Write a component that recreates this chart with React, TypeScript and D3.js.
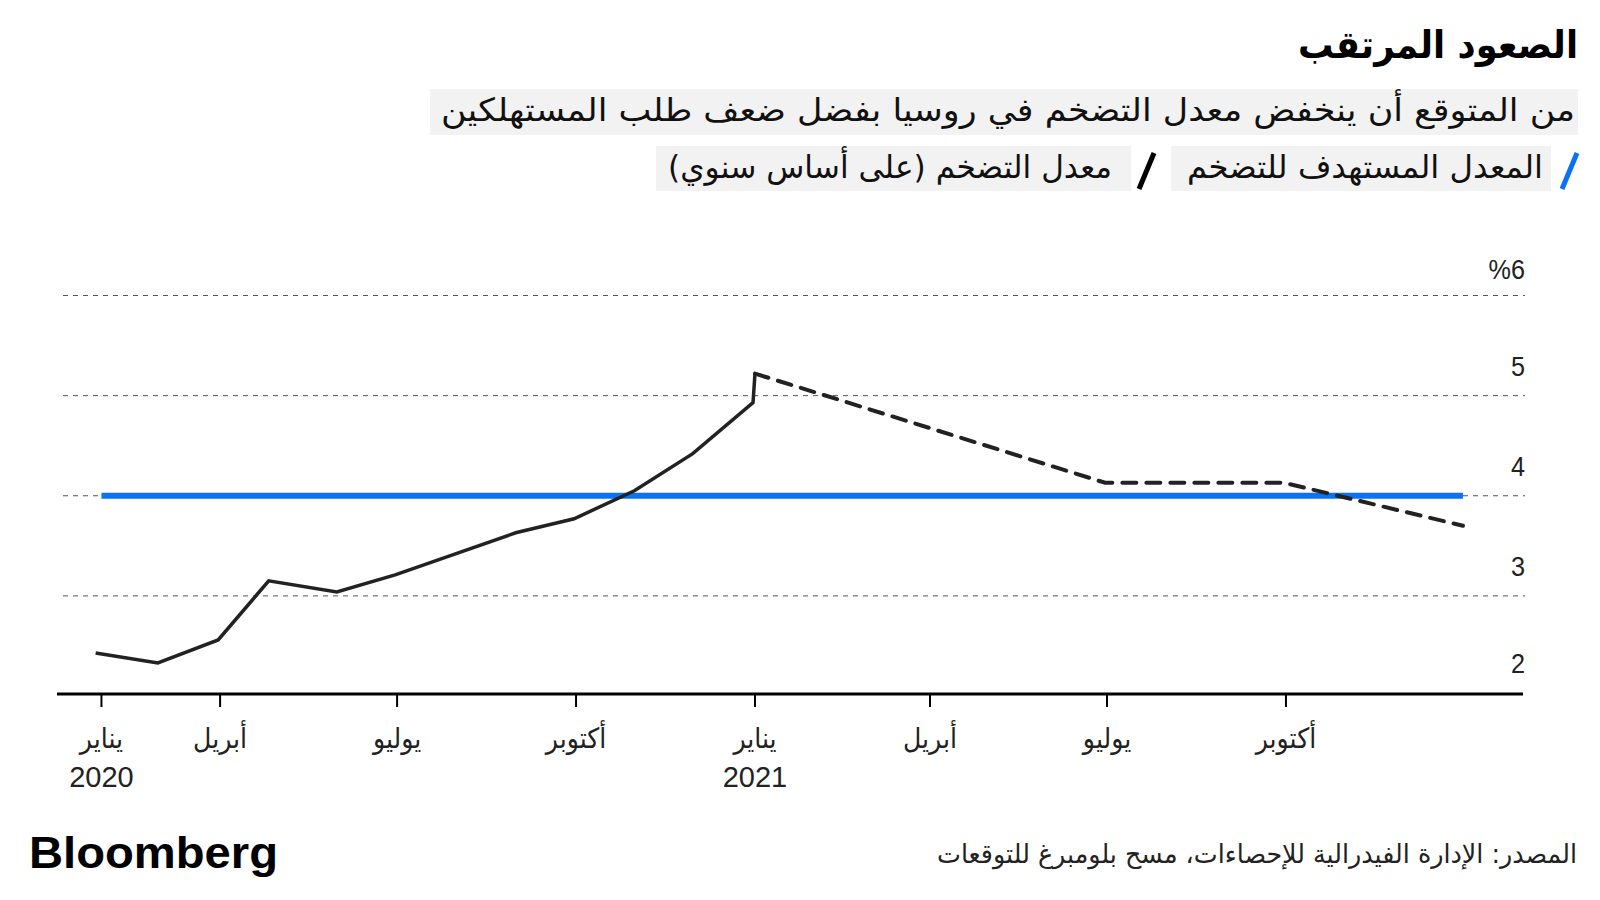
import React from "react";
import * as d3 from "d3";

// ---- data ----
const actualDates = ["2020-01-28", "2020-02-29", "2020-03-31", "2020-04-26", "2020-05-31", "2020-06-30", "2020-07-31", "2020-08-31", "2020-09-30", "2020-10-31", "2020-11-30", "2020-12-31", "2021-01-01"];
const actualValues = [2.43, 2.33, 2.56, 3.15, 3.04, 3.21, 3.42, 3.63, 3.77, 4.05, 4.42, 4.93, 5.22];

const forecastDates = ["2021-01-01", "2021-06-30", "2021-09-30", "2021-12-31"];
const forecastValues = [5.22, 4.13, 4.13, 3.7];

const targetDates = ["2020-01-31", "2021-12-31"];
const targetValues = [4, 4];

const xTickDates = ["2020-01-31", "2020-04-01", "2020-07-01", "2020-10-01", "2021-01-01", "2021-04-01", "2021-07-01", "2021-10-01"];
const xTickMonths = ["يناير", "أبريل", "يوليو", "أكتوبر", "يناير", "أبريل", "يوليو", "أكتوبر"];
const xTickYears = ["2020", "", "", "", "2021", "", "", ""];

const yTicks = [2, 3, 4, 5, 6];
const yTickLabels = ["2", "3", "4", "5", "%6"];

const title = "الصعود المرتقب";
const subtitle = "من المتوقع أن ينخفض معدل التضخم في روسيا بفضل ضعف طلب المستهلكين";
const legendTarget = "المعدل المستهدف للتضخم";
const legendActual = "معدل التضخم (على أساس سنوي)";
const source = "المصدر: الإدارة الفيدرالية للإحصاءات، مسح بلومبرغ للتوقعات";

const AR = "'DejaVu Sans', sans-serif";
const NUM = "'Liberation Sans Narrow', 'Liberation Sans', Arial, sans-serif";

export default function App() {
  const x = d3.scaleUtc().domain([new Date("2020-01-01"), new Date("2022-01-01")]).range([43.1, 1464.9]);
  const y = d3.scaleLinear().domain([2, 6]).range([696, 295.5]);
  const line = d3.line<[Date, number]>().x((d) => x(d[0])).y((d) => y(d[1]));

  const actual = actualDates.map((d, i) => [new Date(d), actualValues[i]] as [Date, number]);
  const forecast = forecastDates.map((d, i) => [new Date(d), forecastValues[i]] as [Date, number]);
  const target = targetDates.map((d, i) => [new Date(d), targetValues[i]] as [Date, number]);

  const axisY = 694;

  return (
    <div style={{ position: "absolute", left: 0, top: 0 }}>
      <svg width={1600} height={900} style={{ display: "block", background: "#fff" }}>
        {/* title */}
        <text x={1438} y={58} textAnchor="middle" direction="rtl" fontFamily={AR} fontWeight="bold" fontSize={38}
          textLength={280} lengthAdjust="spacingAndGlyphs" fill="#000">{title}</text>

        {/* subtitle */}
        <rect x={430} y={89} width={1148} height={46} fill="#f2f2f2" />
        <text x={1008} y={121} textAnchor="middle" direction="rtl" fontFamily={AR} fontSize={32}
          textLength={1134} lengthAdjust="spacingAndGlyphs" fill="#111">{subtitle}</text>

        {/* legend */}
        <line x1={1577} y1={153} x2={1562} y2={189} stroke="#0a72f5" strokeWidth={5} />
        <rect x={1171} y={146} width={380} height={45} fill="#f2f2f2" />
        <text x={1365} y={178} textAnchor="middle" direction="rtl" fontFamily={AR} fontSize={32}
          textLength={356} lengthAdjust="spacingAndGlyphs" fill="#111">{legendTarget}</text>
        <line x1={1154} y1={153} x2={1139} y2={189} stroke="#000" strokeWidth={5} />
        <rect x={656} y={146} width={475} height={45} fill="#f2f2f2" />
        <text x={890} y={178} textAnchor="middle" direction="rtl" fontFamily={AR} fontSize={32}
          textLength={444} lengthAdjust="spacingAndGlyphs" fill="#111">{legendActual}</text>

        {/* gridlines */}
        {yTicks.filter((v) => v > 2).map((v) => (
          <line key={"g" + v} x1={63} x2={1525} y1={y(v)} y2={y(v)} stroke="#555" strokeWidth={1} strokeDasharray="5 5" />
        ))}
        {yTicks.map((v, i) => (
          <text key={"yl" + v} transform={`translate(1525,${y(v) - (v === 6 ? 17 : 20) - (v === 2 ? 3 : 0)}) scale(0.9,1)`} textAnchor="end" fontFamily={NUM} fontSize={28} fill="#222">{yTickLabels[i]}</text>
        ))}

        {/* target line */}
        <path d={line(target) || ""} fill="none" stroke="#0a72f5" strokeWidth={6} />

        {/* forecast */}
        <path d={line(forecast) || ""} fill="none" stroke="#222" strokeWidth={4} strokeDasharray="14 10" strokeLinecap="round" />

        {/* actual */}
        <path d={line(actual) || ""} fill="none" stroke="#222" strokeWidth={3.5} strokeLinejoin="miter" />

        {/* x axis */}
        <line x1={57} x2={1523} y1={axisY} y2={axisY} stroke="#000" strokeWidth={3} />
        {xTickDates.map((d, i) => {
          const xx = x(new Date(d));
          return (
            <g key={"xt" + i}>
              <line x1={xx} x2={xx} y1={axisY} y2={axisY + 13} stroke="#000" strokeWidth={2} />
              <text transform={`translate(${xx},748) scale(0.9,1)`} textAnchor="middle" direction="rtl" fontFamily={AR} fontSize={28} fill="#222">{xTickMonths[i]}</text>
              {xTickYears[i] && (
                <text x={xx} y={787} textAnchor="middle" fontFamily={NUM} fontSize={29} fill="#222">{xTickYears[i]}</text>
              )}
            </g>
          );
        })}

        {/* footer */}
        <text x={29} y={868} fontFamily="'Liberation Sans', Arial, sans-serif" fontWeight="bold" fontSize={45}
          textLength={249} lengthAdjust="spacingAndGlyphs" fill="#000">Bloomberg</text>
        <text x={1257} y={863} textAnchor="middle" direction="rtl" fontFamily={AR} fontSize={26}
          textLength={640} lengthAdjust="spacingAndGlyphs" fill="#222">{source}</text>
      </svg>
    </div>
  );
}
